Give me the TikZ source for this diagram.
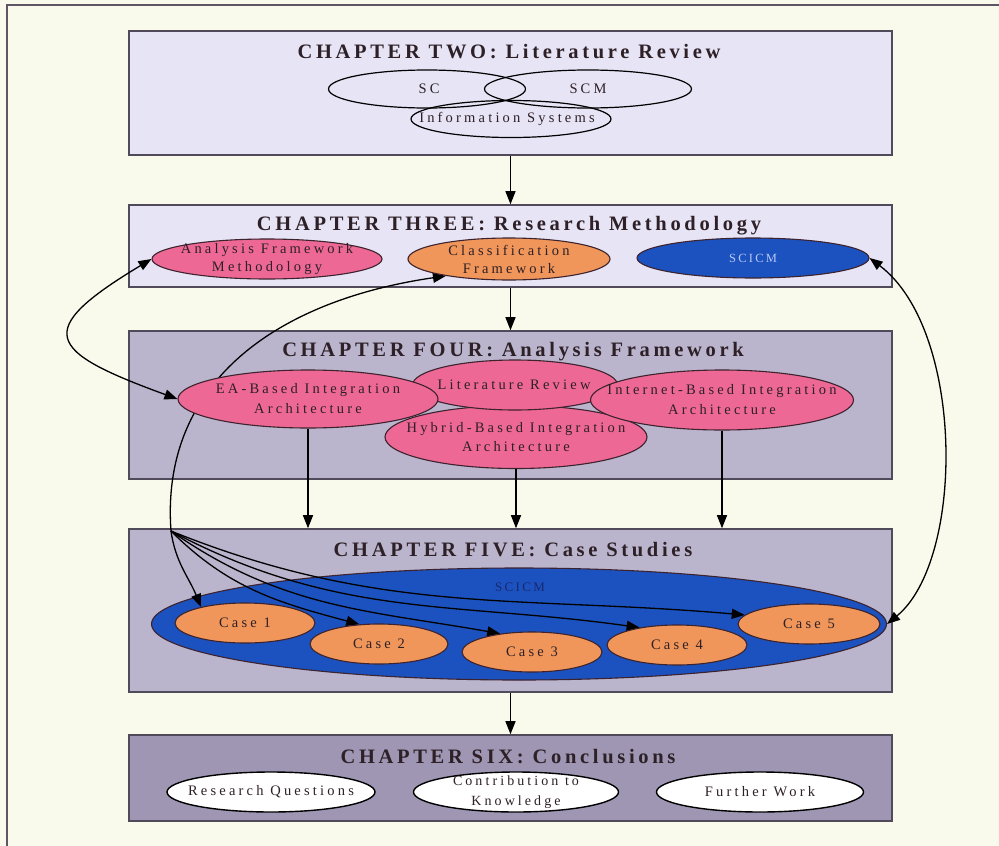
\documentclass[tikz,border=0pt]{standalone}
\usepackage{fontspec}
\setmainfont{Liberation Serif}
\newfontfamily\spaced[LetterSpace=18]{Liberation Serif}
\newfontfamily\wide[LetterSpace=22]{Liberation Serif}
\usetikzlibrary{shapes.geometric,arrows.meta}

\definecolor{paper}{RGB}{250,250,236}
\definecolor{framecol}{RGB}{95,85,100}
\definecolor{boxline}{RGB}{80,74,90}
\definecolor{lightlav}{RGB}{231,228,245}
\definecolor{midlav}{RGB}{186,180,205}
\definecolor{darklav}{RGB}{158,150,178}
\definecolor{pinkfill}{RGB}{238,104,150}
\definecolor{orangefill}{RGB}{240,150,90}
\definecolor{bluefill}{RGB}{28,82,192}
\definecolor{blobline}{RGB}{60,35,45}
\definecolor{inktext}{RGB}{45,32,38}
\definecolor{paleblue}{RGB}{185,200,240}
\definecolor{navytext}{RGB}{25,40,110}

\pgfdeclarelayer{bg}
\pgfdeclarelayer{mid}
\pgfsetlayers{bg,mid,main}

\tikzset{
  chapbox/.style={rectangle, draw=boxline, line width=1.6pt, minimum width=763pt, inner sep=0pt},
  chaptitle/.style={inner sep=0pt, text=inktext, font=\spaced\bfseries\fontsize{20.5}{24}\selectfont},
  % ellipses are drawn empty; their wording sits in separate tag nodes
  blob/.style={ellipse, draw=blobline, line width=1.1pt, inner sep=0pt},
  tag/.style={inner sep=0pt, align=center, text=inktext, font=\wide\fontsize{14.5}{18}\selectfont},
  ring/.style={blob, draw=black, line width=1.2pt},
  pinkblob/.style={blob, fill=pinkfill},
  orangeblob/.style={blob, fill=orangefill},
  blueblob/.style={blob, fill=bluefill},
  whiteblob/.style={blob, fill=white, draw=black, line width=1.4pt},
  flow/.style={-{Triangle[length=13pt,width=10pt]}, line width=1.3pt, draw=black},
  twoway/.style={{Triangle[length=13pt,width=10pt]}-{Triangle[length=13pt,width=10pt]}, line width=1.3pt, draw=black}
}

\begin{document}
\begin{tikzpicture}[x=1pt,y=-1pt]
\useasboundingbox (0,0) rectangle (999,846);

\begin{pgfonlayer}{bg}
  \fill[paper] (0,0) rectangle (999,846);
  \draw[framecol, line width=1.8pt] (7,846) -- (7,5) -- (999,5);

  % chapter panels
  \node[chapbox, fill=lightlav, minimum height=124pt] (ch2) at (510.5,93) {};
  \node[chapbox, fill=lightlav, minimum height=82pt] (ch3) at (510.5,246) {};
  \node[chapbox, fill=midlav, minimum height=148pt] (ch4) at (510.5,405) {};
  \node[chapbox, fill=midlav, minimum height=163pt] (ch5) at (510.5,610.5) {};
  \node[chapbox, fill=darklav, minimum height=86pt] (ch6) at (510.5,778) {};

  % the model as a whole, behind the cases
  \node[blueblob, minimum width=735pt, minimum height=112pt] (bigscicm) at (519,624) {};
\end{pgfonlayer}

% chapter headings
\node[chaptitle] (t2) at (509,52) {CHAPTER TWO: Literature Review};
\node[chaptitle] (t3) at (509,226) {CHAPTER THREE: Research Methodology};
\node[chaptitle] (t4) at (513,352) {CHAPTER FOUR: Analysis Framework};
\node[chaptitle] (t5) at (513,550) {CHAPTER FIVE: Case Studies};
\node[chaptitle] (t6) at (508,757) {CHAPTER SIX: Conclusions};

% chapter two: overlapping subject areas
\node[ring, minimum width=197pt, minimum height=38pt] (sc) at (427,89) {};
\node[ring, minimum width=207pt, minimum height=38pt] (scm) at (588,89) {};
\node[ring, minimum width=200pt, minimum height=37pt] (infosys) at (511,119) {};
\node[tag] (sctext) at (429,89) {SC};
\node[tag] (scmtext) at (588,89) {SCM};
\node[tag] (infotext) at (507,119) {Information Systems};

% chapter three
\node[pinkblob, minimum width=230pt, minimum height=40pt] (afm) at (267,259) {};
\node[orangeblob, minimum width=202pt, minimum height=42pt] (cf) at (509,259) {};
\node[blueblob, minimum width=232pt, minimum height=40pt] (scicm) at (753,258) {};
\node[tag] (afmtext) at (267,259) {Analysis Framework\\Methodology};
\node[tag] (cftext) at (509,259) {Classification\\Framework};
\node[tag, text=paleblue, font=\spaced\fontsize{12.5}{16}\selectfont] (scicmtext) at (753,258) {SCICM};

% chapter four
\node[pinkblob, minimum width=262pt, minimum height=63pt] (hybrid) at (516,437) {};
\node[pinkblob, minimum width=205pt, minimum height=50pt] (litrev) at (515,385) {};
\node[pinkblob, minimum width=260pt, minimum height=58pt] (ea) at (308,399) {};
\node[pinkblob, minimum width=263pt, minimum height=60pt] (internet) at (722,400) {};
\node[tag, font=\wide\fontsize{14.5}{19}\selectfont] (hybridtext) at (516,437) {Hybrid-Based Integration\\Architecture};
\node[tag] (litrevtext) at (514,385) {Literature Review};
\node[tag, font=\wide\fontsize{14.5}{20}\selectfont] (eatext) at (308,399) {EA-Based Integration\\Architecture};
\node[tag, font=\wide\fontsize{14.5}{20}\selectfont] (internettext) at (722,400) {Internet-Based Integration\\Architecture};

% chapter five
\node[tag, text=navytext, font=\spaced\fontsize{13}{16}\selectfont] (bigscicmtext) at (520,587) {SCICM};
\node[orangeblob, minimum width=140pt, minimum height=40pt] (case1) at (245,623) {};
\node[orangeblob, minimum width=138pt, minimum height=40pt] (case2) at (379,644) {};
\node[orangeblob, minimum width=140pt, minimum height=40pt] (case3) at (532,652) {};
\node[orangeblob, minimum width=140pt, minimum height=40pt] (case4) at (677,645) {};
\node[orangeblob, minimum width=142pt, minimum height=40pt] (case5) at (809,624) {};
\node[tag] (case1text) at (245,623) {Case 1};
\node[tag] (case2text) at (379,644) {Case 2};
\node[tag] (case3text) at (532,652) {Case 3};
\node[tag] (case4text) at (677,645) {Case 4};
\node[tag] (case5text) at (809,624) {Case 5};

% chapter six
\node[whiteblob, minimum width=208pt, minimum height=40pt] (rq) at (271,792) {};
\node[whiteblob, minimum width=205pt, minimum height=40pt] (ck) at (516,792) {};
\node[whiteblob, minimum width=207pt, minimum height=40pt] (fw) at (760,792) {};
\node[tag] (rqtext) at (271,792) {Research Questions};
\node[tag, font=\wide\fontsize{14}{20}\selectfont] (cktext) at (516,792) {Contribution to\\Knowledge};
\node[tag] (fwtext) at (760,792) {Further Work};

% flow between chapters
\draw[flow] (ch2) -- (ch3);
\draw[flow] (ch3) -- (ch4);
\draw[flow] (ea.south) -- (ea.south |- ch5.north);
\draw[flow] (hybrid.south) -- (hybrid.south |- ch5.north);
\draw[flow] (internet.south) -- (internet.south |- ch5.north);
\draw[flow] (ch5) -- (ch6);

% links between the parts of the framework
\coordinate (fan) at (171,531);
\begin{pgfonlayer}{mid}
  \draw[twoway] (afm.west) .. controls (32,331) and (46,351) .. (ea.west);
  \draw[flow] (fan) .. controls (160,380) and (280,300) .. (cf.195);
  \draw[twoway] (scicm.east) .. controls (965,330) and (965,560) .. (bigscicm.east);
  \draw[flow] (fan) to[out=-82, in=112] (case1.160);
  \draw[flow] (fan) to[out=-45, in=165] (case2.135);
  \draw[flow] (fan) to[out=-35, in=170] (case3.150);
  \draw[flow] (fan) to[out=-28, in=172] (case4.155);
  \draw[flow] (fan) to[out=-22, in=175] (case5.172);
\end{pgfonlayer}
\end{tikzpicture}
\end{document}
